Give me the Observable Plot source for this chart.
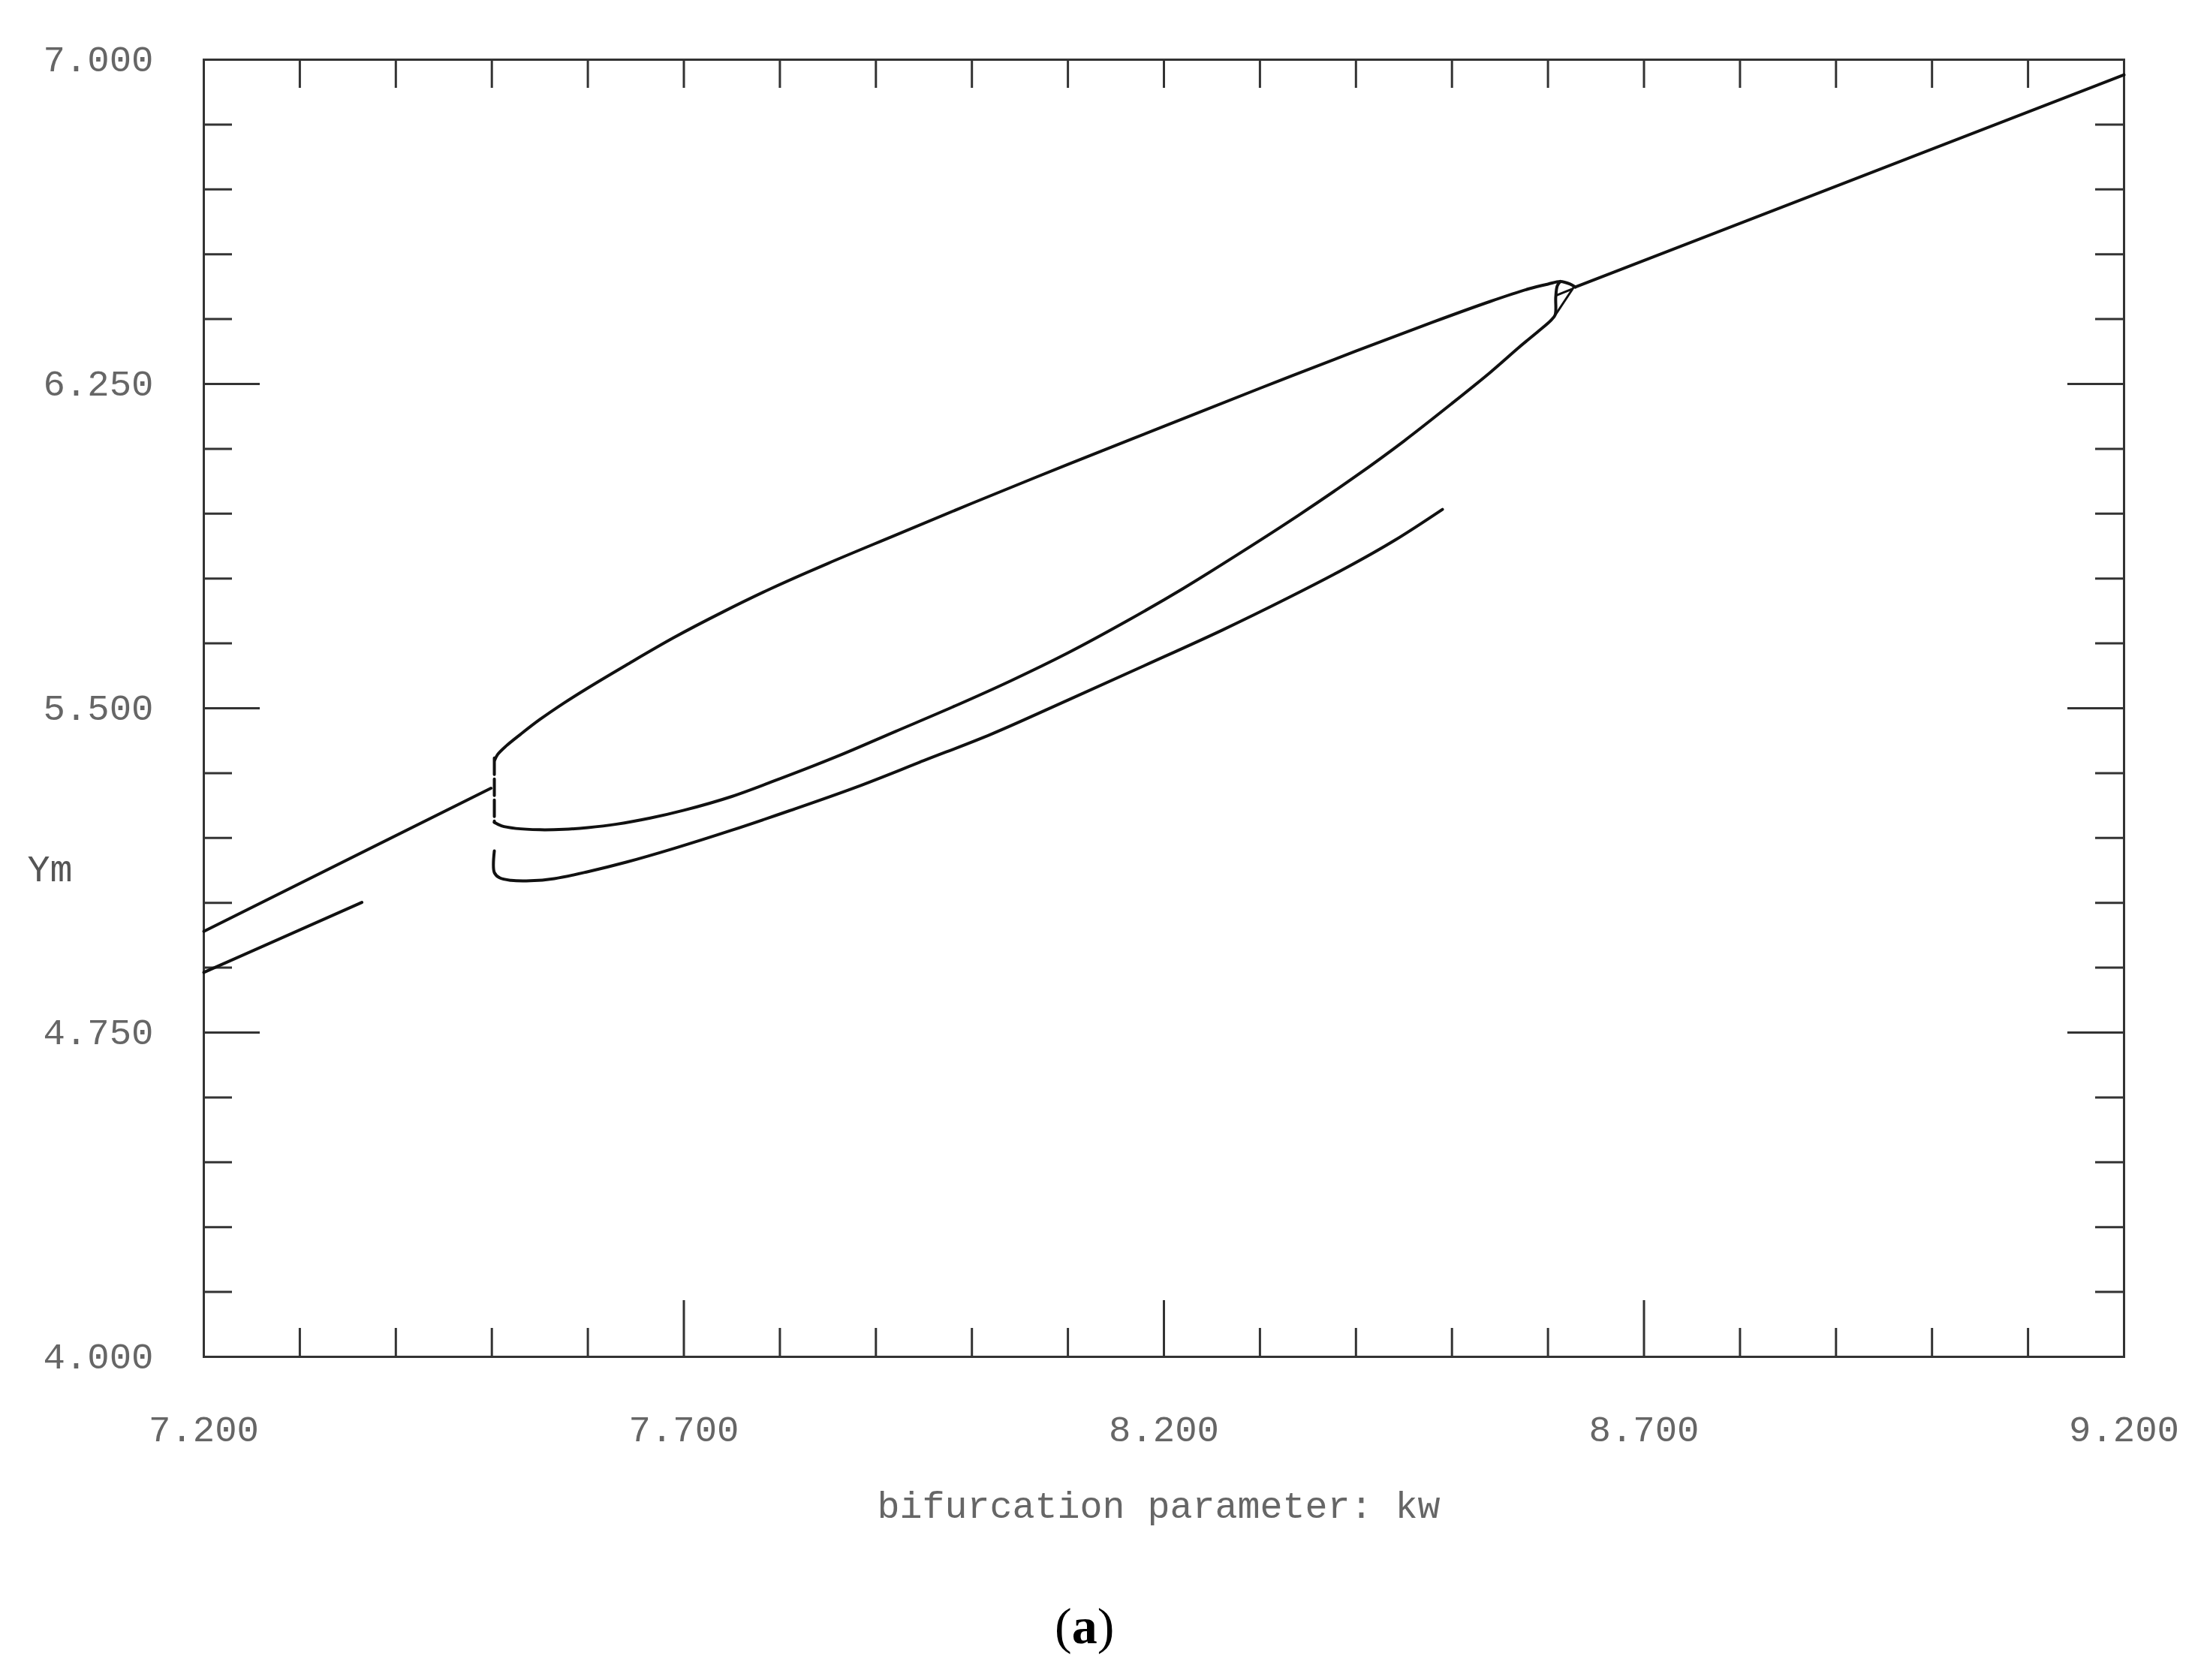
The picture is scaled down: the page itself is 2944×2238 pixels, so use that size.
<!DOCTYPE html>
<html>
<head>
<meta charset="utf-8">
<script src="https://cdn.jsdelivr.net/npm/d3@7"></script>
<script src="https://cdn.jsdelivr.net/npm/@observablehq/plot@0.6"></script>
<style>
  html, body { margin: 0; padding: 0; background: #fff; }
  body { position: relative; width: 2944px; height: 2238px; overflow: hidden; }
  #caption {
    position: absolute; left: 1405px; top: 2132px;
    font-family: "Liberation Serif", "DejaVu Serif", serif;
    font-size: 68px; line-height: 68px; color: #000;
  }
</style>
</head>
<body>
<div id="chart"></div>
<div id="caption">(<b>a</b>)</div>
<script>
// ---------- data (kw, Ym) ----------
const xLabel = "bifurcation parameter: kw";
const yLabel = "Ym";
const xTickValues = [7.2, 7.7, 8.2, 8.7, 9.2];
const yTickValues = [4.0, 4.75, 5.5, 6.25, 7.0];
const xMinorTicks = [7.3, 7.4, 7.5, 7.6, 7.8, 7.9, 8.0, 8.1, 8.3, 8.4, 8.5, 8.6, 8.8, 8.9, 9.0, 9.1];
const xMajorInner = [7.7, 8.2, 8.7];
const yMinorTicks = [4.15, 4.3, 4.45, 4.6, 4.9, 5.05, 5.2, 5.35, 5.65, 5.8, 5.95, 6.1, 6.4, 6.55, 6.7, 6.85];
const yMajorInner = [4.75, 5.5, 6.25];

// stable branch left of the fold
const mainLeft = [[7.2, 4.984], [7.4991, 5.315]];
// short lower branch at the left edge
const shortLeft = [[7.2, 4.889], [7.3646, 5.051]];
// dashed vertical segment at the fold
const foldDashed = [[7.5026, 5.385], [7.5026, 5.236]];
// upper branch of the loop
const upperBranch = [
  [7.5030, 5.380], [7.5060, 5.393], [7.5150, 5.413], [7.5300, 5.440], [7.5500, 5.474],
  [7.5750, 5.512], [7.6000, 5.547], [7.6400, 5.600], [7.6900, 5.664], [7.7400, 5.722],
  [7.7900, 5.776], [7.8500, 5.835], [7.9200, 5.900], [8.0000, 5.974], [8.1000, 6.064],
  [8.2000, 6.152], [8.3000, 6.240], [8.4000, 6.326], [8.4800, 6.393], [8.5400, 6.441],
  [8.5800, 6.470], [8.6000, 6.481], [8.6130, 6.487], [8.6230, 6.481], [8.6285, 6.474]
];
// stable branch right of the loop
const mainRight = [[8.6285, 6.474], [9.2, 6.965]];
// lower branch of the loop
const middleBranch = [
  [7.5026, 5.236], [7.5100, 5.228], [7.5250, 5.222], [7.5500, 5.219], [7.5750, 5.220],
  [7.6000, 5.224], [7.6300, 5.232], [7.6650, 5.246], [7.7000, 5.264], [7.7500, 5.296],
  [7.8000, 5.337], [7.8600, 5.389], [7.9200, 5.446], [7.9800, 5.503], [8.0400, 5.563],
  [8.1000, 5.628], [8.1600, 5.700], [8.2200, 5.777], [8.2800, 5.860], [8.3400, 5.946],
  [8.4000, 6.037], [8.4500, 6.118], [8.5000, 6.205], [8.5400, 6.277], [8.5700, 6.335],
  [8.5900, 6.372], [8.6030, 6.397], [8.6075, 6.410], [8.6081, 6.451], [8.6097, 6.477],
  [8.6129, 6.487]
];
// separate lower curve
const lowerBranch = [
  [7.5026, 5.170], [7.5026, 5.120], [7.5080, 5.108], [7.5200, 5.102], [7.5400, 5.101],
  [7.5650, 5.106], [7.6000, 5.122], [7.6400, 5.144], [7.6900, 5.176], [7.7500, 5.218],
  [7.8100, 5.263], [7.8800, 5.318], [7.9500, 5.379], [8.0200, 5.440], [8.1000, 5.519],
  [8.1800, 5.599], [8.2600, 5.680], [8.3300, 5.756], [8.3900, 5.825], [8.4400, 5.888],
  [8.4901, 5.960]
];
// small inner strokes of the knot at the tip
const tipStrokeA = [[8.6081, 6.411], [8.6269, 6.474]];
const tipStrokeB = [[8.6089, 6.455], [8.6254, 6.470]];

// ---------- layout ----------
const W = 2944, H = 2100;
const mL = 271, mR = 115, mT = 79, mB = H - 1807;
const plotW = W - mL - mR;
const plotH = H - mT - mB;
const minorLen = 38, majorLen = 75;
const axisColor = "#333";
const curveColor = "#111";
const textColor = "#666";
const fmt = d3.format(".3f");

const px = d => d[0], py = d => d[1];
const curveLine = (data, extra = {}) =>
  Plot.line(data, {x: px, y: py, stroke: curveColor, strokeWidth: 4, curve: "catmull-rom", ...extra});

const chart = Plot.plot({
  width: W,
  height: H,
  marginLeft: mL, marginRight: mR, marginTop: mT, marginBottom: mB,
  style: {
    fontFamily: '"Liberation Mono", "DejaVu Sans Mono", monospace',
    fontSize: "49px",
    color: textColor,
    background: "#fff"
  },
  x: {domain: [7.2, 9.2]},
  y: {domain: [4, 7]},
  marks: [
    Plot.axisX(xTickValues, {tickSize: 0, tickPadding: 78, tickFormat: fmt, fill: textColor, label: null}),
    Plot.axisY(yTickValues, {tickSize: 0, tickPadding: 67, tickFormat: fmt, fill: textColor, label: null}),
    // inward ticks: bottom
    Plot.tickX(xMinorTicks, {x: d => d, insetTop: plotH - minorLen, stroke: axisColor, strokeWidth: 3}),
    Plot.tickX(xMajorInner, {x: d => d, insetTop: plotH - majorLen, stroke: axisColor, strokeWidth: 3}),
    // top
    Plot.tickX(xMinorTicks.concat(xMajorInner), {x: d => d, insetBottom: plotH - minorLen, stroke: axisColor, strokeWidth: 3}),
    // left
    Plot.tickY(yMinorTicks, {y: d => d, insetRight: plotW - minorLen, stroke: axisColor, strokeWidth: 3}),
    Plot.tickY(yMajorInner, {y: d => d, insetRight: plotW - majorLen, stroke: axisColor, strokeWidth: 3}),
    // right
    Plot.tickY(yMinorTicks, {y: d => d, insetLeft: plotW - minorLen, stroke: axisColor, strokeWidth: 3}),
    Plot.tickY(yMajorInner, {y: d => d, insetLeft: plotW - majorLen, stroke: axisColor, strokeWidth: 3}),
    Plot.frame({stroke: axisColor, strokeWidth: 3}),
    // curves
    curveLine(mainLeft, {curve: "linear"}),
    curveLine(shortLeft, {curve: "linear"}),
    curveLine(foldDashed, {curve: "linear", strokeDasharray: "22,6"}),
    curveLine(upperBranch),
    curveLine(mainRight, {curve: "linear"}),
    curveLine(middleBranch),
    curveLine(lowerBranch),
    curveLine(tipStrokeA, {curve: "linear", strokeWidth: 3}),
    curveLine(tipStrokeB, {curve: "linear", strokeWidth: 3}),
    // axis titles
    Plot.text([xLabel], {text: d => d, frameAnchor: "bottom", textAnchor: "middle", lineAnchor: "middle",
      dy: 198, dx: -7, fontSize: 50, fill: textColor}),
    Plot.text([yLabel], {text: d => d, frameAnchor: "left", textAnchor: "middle", lineAnchor: "middle",
      dx: -205, dy: 214, fontSize: 50, fill: "#555"})
  ]
});
document.getElementById("chart").appendChild(chart);
</script>
</body>
</html>
